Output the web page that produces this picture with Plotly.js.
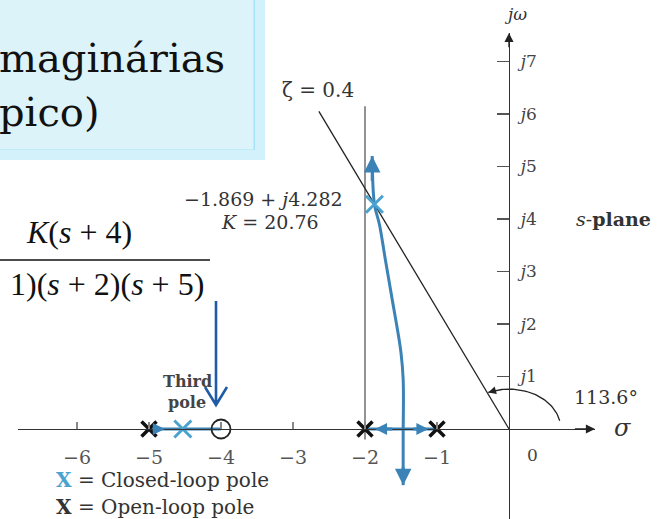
<!DOCTYPE html>
<html>
<head>
<meta charset="utf-8">
<script src="https://cdn.plot.ly/plotly-3.0.1.min.js"></script>
<style>
  html, body { margin: 0; padding: 0; background: #fff; }
  #plot { width: 661px; height: 519px; }
</style>
</head>
<body>
<div id="plot"></div>
<script>
// Root locus of G(s) = K(s+4) / ((s+1)(s+2)(s+5)) with the zeta = 0.4 line

// open-loop poles and zero (real axis)
const openLoopPoles = [-5, -2, -1];
const openLoopZeros = [-4];

// closed-loop poles at K = 20.76
const closedLoopRe = [-4.53, -1.869];
const closedLoopIm = [0, 4.282];

// real-axis locus segments
const thirdPoleSegRe = [-5, -4];
const breakawaySegRe = [-2, -1];

// complex branch leaving the real axis (upper half)
const upperBranchRe = [-1.47, -1.47, -1.50, -1.55, -1.62, -1.72, -1.80, -1.869, -1.90];
const upperBranchIm = [0, 0.95, 1.45, 1.90, 2.45, 3.25, 3.90, 4.282, 5.20];

// lower branch (visible part)
const lowerBranchRe = [-1.47, -1.47];
const lowerBranchIm = [0, -1.07];

// damping ratio line and its angle
const zeta = 0.4;
const zetaAngleDeg = 113.6;
const zetaLineTopIm = 6.05;

// constant sigma = -2 reference line
const sigmaLineRe = [-2, -2];
const sigmaLineIm = [-0.2, 6.15];

// tick labels
const xTickVals = [-6, -5, -4, -3, -2, -1];
const xTickText = ['\u22126', '\u22125', '\u22124', '\u22123', '\u22122', '\u22121'];
const yTickVals = [1, 2, 3, 4, 5, 6, 7];
const yTickText = yTickVals.map(v => '<i>j</i>' + v);

const W = 661, H = 519;
const P = (px, py) => ({ x: px / W, y: 1 - py / H });

const BLUE = '#3b83b6';
const BLUE_X = '#4aa3cf';
const SERIF = 'DejaVu Serif, serif';
const TIMES = 'Liberation Serif, Times New Roman, serif';

// pixel scale of the s-plane
const originPx = [509, 429];
const pxPerRe = 72, pxPerIm = 52.5;
const xDomPx = [18, 595];
const yDomPx = [33, 519];
const xRange = xDomPx.map(p => (p - originPx[0]) / pxPerRe);
const yRange = [(originPx[1] - yDomPx[1]) / pxPerIm, (originPx[1] - yDomPx[0]) / pxPerIm];

// zeta line end point
const zetaTopRe = -zetaLineTopIm * zeta / Math.sqrt(1 - zeta * zeta);

// angle arc from the positive real axis to the zeta line
const arcAngles = [];
for (let a = 12; a <= zetaAngleDeg; a += 2) arcAngles.push(a);
arcAngles.push(zetaAngleDeg);
const arcRe = arcAngles.map(a => 0.72 * Math.cos(a * Math.PI / 180));
const arcIm = arcAngles.map(a => 0.76 * Math.sin(a * Math.PI / 180));

const traces = [
  { x: sigmaLineRe, y: sigmaLineIm, mode: 'lines', line: { color: '#777', width: 1.6 } },
  { x: [0, zetaTopRe], y: [0, zetaLineTopIm], mode: 'lines', line: { color: '#222', width: 1.3 } },
  { x: arcRe, y: arcIm, mode: 'lines', line: { color: '#222', width: 1.3 } },
  { x: thirdPoleSegRe, y: [0, 0], mode: 'lines', line: { color: BLUE, width: 3 } },
  { x: breakawaySegRe, y: [0, 0], mode: 'lines', line: { color: BLUE, width: 3 } },
  { x: upperBranchRe, y: upperBranchIm, mode: 'lines', line: { color: BLUE, width: 3, shape: 'spline' } },
  { x: lowerBranchRe, y: lowerBranchIm, mode: 'lines', line: { color: BLUE, width: 3 } },
  { x: openLoopZeros, y: openLoopZeros.map(() => 0), mode: 'markers',
    marker: { symbol: 'circle-open', size: 19, color: '#222', line: { width: 1.8, color: '#222' } } },
  { x: openLoopPoles, y: openLoopPoles.map(() => 0), mode: 'markers',
    marker: { symbol: 'x-thin-open', size: 15, color: '#111', line: { width: 3.5, color: '#111' } } },
  { x: closedLoopRe, y: closedLoopIm, mode: 'markers',
    marker: { symbol: 'x-thin-open', size: 17, color: BLUE_X, line: { width: 3, color: BLUE_X } } }
];

function dataArrow(xFrom, yFrom, xTo, yTo, color, size) {
  return { x: xTo, y: yTo, ax: xFrom, ay: yFrom, xref: 'x', yref: 'y', axref: 'x', ayref: 'y',
    showarrow: true, arrowhead: 2, arrowsize: size || 1, arrowwidth: 3, arrowcolor: color, text: '' };
}
function pxText(text, px, py, opts) {
  const p = P(px, py);
  return Object.assign({ x: p.x, y: p.y, xref: 'paper', yref: 'paper', text: text, showarrow: false,
    xanchor: 'center', yanchor: 'middle', font: { family: SERIF, size: 19, color: '#333' } }, opts || {});
}

const annotations = [
  // locus direction arrows
  dataArrow(upperBranchRe[8], 4.7, upperBranchRe[8], upperBranchIm[8], BLUE, 1.1),
  dataArrow(-1.47, -0.7, lowerBranchRe[1], lowerBranchIm[1], BLUE, 1.1),
  dataArrow(-1.6, 0, -1.86, 0, BLUE, 0.8),
  dataArrow(-1.35, 0, -1.12, 0, BLUE, 0.8),
  dataArrow(-4.95, 0, -4.78, 0, BLUE, 0.8),
  // angle arc arrowheads
  { x: arcRe[arcRe.length - 1], y: arcIm[arcIm.length - 1], ax: arcRe[arcRe.length - 4], ay: arcIm[arcIm.length - 4],
    xref: 'x', yref: 'y', axref: 'x', ayref: 'y', showarrow: true, arrowhead: 2, arrowsize: 1.2, arrowwidth: 1.3, arrowcolor: '#222', text: '' },
  { x: arcRe[0], y: arcIm[0], ax: arcRe[2], ay: arcIm[2],
    xref: 'x', yref: 'y', axref: 'x', ayref: 'y', showarrow: true, arrowhead: 2, arrowsize: 1.2, arrowwidth: 1.3, arrowcolor: '#222', text: '' },
  // axis arrowheads
  { x: xRange[1], y: 0, ax: xRange[1] - 0.3, ay: 0, xref: 'x', yref: 'y', axref: 'x', ayref: 'y',
    showarrow: true, arrowhead: 2, arrowsize: 1.3, arrowwidth: 1.4, arrowcolor: '#222', text: '' },
  { x: 0, y: yRange[1], ax: 0, ay: yRange[1] - 0.3, xref: 'x', yref: 'y', axref: 'x', ayref: 'y',
    showarrow: true, arrowhead: 2, arrowsize: 1.3, arrowwidth: 1.4, arrowcolor: '#222', text: '' },

  // s-plane labels
  pxText('<i>\u03c3</i>', 622, 428, { font: { family: SERIF, size: 24, color: '#333' } }),
  pxText('<i>j\u03c9</i>', 515, 14, { font: { family: SERIF, size: 17, color: '#333' } }),
  pxText('0', 532, 455, { font: { family: SERIF, size: 17, color: '#444' } }),
  pxText('<i>s</i>-<b>plane</b>', 613, 219),
  pxText('\u03b6 = 0.4', 318, 90, { font: { family: SERIF, size: 20, color: '#333' } }),
  pxText('\u22121.869 + <i>j</i>4.282', 345, 199, { xanchor: 'right' }),
  pxText('<i>K</i> = 20.76', 321, 222, { xanchor: 'right' }),
  pxText('113.6\u00b0', 606, 397),
  pxText('<b>Third</b>', 187, 381, { font: { family: SERIF, size: 16, color: '#444' } }),
  pxText('<b>pole</b>', 187, 402, { font: { family: SERIF, size: 16, color: '#444' } }),
  pxText('<span style="color:' + BLUE_X + '"><b>X</b></span> = Closed-loop pole', 54, 480,
    { xanchor: 'left', font: { family: SERIF, size: 20, color: '#333' } }),
  pxText('<b>X</b> = Open-loop pole', 54, 507,
    { xanchor: 'left', font: { family: SERIF, size: 20, color: '#333' } }),

  // slide text
  pxText('maginárias', 227, 58, { xanchor: 'right', font: { family: SERIF, size: 40, color: '#111' } }),
  pxText('pico)', -3, 112, { xanchor: 'left', font: { family: SERIF, size: 40, color: '#111' } }),
  pxText('<i>K</i>(<i>s</i> + 4)', 134, 232, { xanchor: 'right', font: { family: TIMES, size: 32, color: '#111' } }),
  pxText('1)(<i>s</i> + 2)(<i>s</i> + 5)', 206, 284, { xanchor: 'right', font: { family: TIMES, size: 32, color: '#111' } })
];

// slide arrow pointing at the third pole
const arrowTop = P(216, 301), arrowTip = P(216, 405), armL = P(205, 387), armR = P(227, 387);
const boxTL = P(-10, -10), boxBR = P(256, 152);
const barL = P(-5, 260), barR = P(210, 260);

const shapes = [
  { type: 'rect', xref: 'paper', yref: 'paper', x0: boxTL.x, y0: boxBR.y - 0.006, x1: boxBR.x + 0.006, y1: boxTL.y,
    fillcolor: 'rgba(0,0,0,0)', line: { color: '#d2f1fb', width: 10 }, layer: 'above' },
  { type: 'rect', xref: 'paper', yref: 'paper', x0: boxTL.x, y0: boxBR.y, x1: boxBR.x, y1: boxTL.y,
    fillcolor: '#dcf4f9', line: { color: '#a3e3f8', width: 5 }, layer: 'below' },
  { type: 'line', xref: 'paper', yref: 'paper', x0: barL.x, y0: barL.y, x1: barR.x, y1: barR.y,
    line: { color: '#111', width: 1.6 } },
  { type: 'path', xref: 'paper', yref: 'paper',
    path: `M${arrowTop.x},${arrowTop.y} L${arrowTip.x},${arrowTip.y} M${armL.x},${armL.y} L${arrowTip.x},${arrowTip.y} L${armR.x},${armR.y}`,
    line: { color: '#1f5ba6', width: 2.6 } }
];

const layout = {
  width: W, height: H,
  margin: { l: 0, r: 0, t: 0, b: 0 },
  paper_bgcolor: '#ffffff', plot_bgcolor: 'rgba(0,0,0,0)',
  showlegend: false,
  xaxis: {
    domain: [xDomPx[0] / W, xDomPx[1] / W], range: xRange,
    anchor: 'free', position: 1 - originPx[1] / H,
    showline: true, linecolor: '#333', linewidth: 1.4,
    ticks: 'inside', ticklen: 7, tickcolor: '#888', tickwidth: 1.3,
    tickvals: xTickVals, ticktext: xTickText, ticklabelstandoff: 11,
    tickfont: { family: SERIF, size: 19, color: '#555' },
    showgrid: false, zeroline: false, fixedrange: true
  },
  yaxis: {
    domain: [0, 1 - yDomPx[0] / H], range: yRange,
    anchor: 'free', position: originPx[0] / W, side: 'right',
    showline: true, linecolor: '#333', linewidth: 1.4,
    ticks: 'inside', ticklen: 12, tickcolor: '#555', tickwidth: 1.3,
    tickvals: yTickVals, ticktext: yTickText, ticklabelstandoff: 7,
    tickfont: { family: SERIF, size: 17, color: '#444' },
    showgrid: false, zeroline: false, fixedrange: true
  },
  annotations: annotations,
  shapes: shapes
};

Plotly.newPlot('plot', traces, layout, { staticPlot: true, displayModeBar: false });
</script>
</body>
</html>
